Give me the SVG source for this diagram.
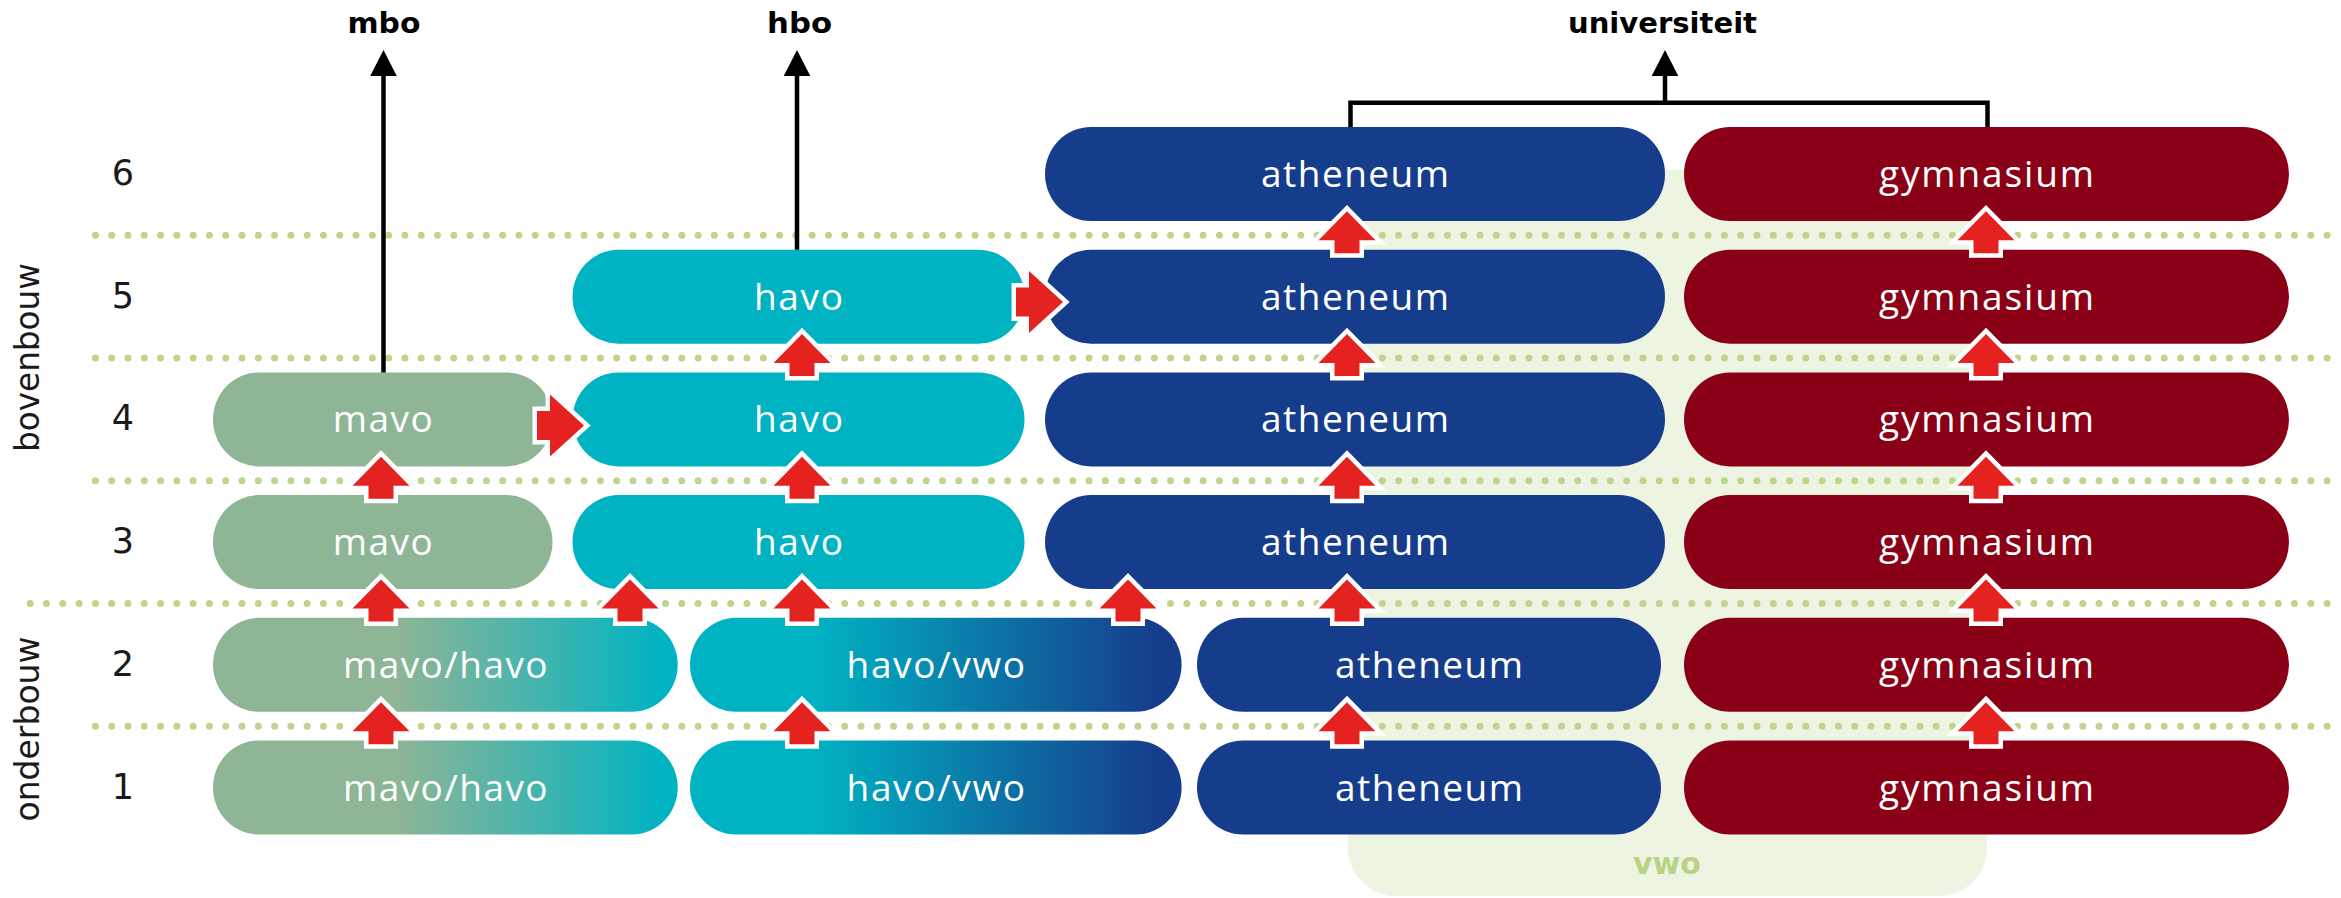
<svg xmlns="http://www.w3.org/2000/svg" xmlns:xlink="http://www.w3.org/1999/xlink" width="2341" height="898" viewBox="0 0 2341 898">
<style>
.box{stroke:none}
.lbl{font-family:"Open Sans","Liberation Sans",sans-serif;font-size:37px;fill:#ffffff;text-anchor:middle}
.num{font-family:"DejaVu Sans","Liberation Sans",sans-serif;font-size:35px;fill:#1a1a1a;text-anchor:middle}
.side{font-family:"DejaVu Sans","Liberation Sans",sans-serif;font-size:33px;fill:#1a1a1a;text-anchor:middle}
.top{font-family:"DejaVu Sans","Liberation Sans",sans-serif;font-size:29px;font-weight:bold;fill:#000;text-anchor:middle}
.dots{stroke:#bdd68a;stroke-width:7;stroke-linecap:round;stroke-dasharray:0 16.29;fill:none}
.blk{stroke:#000;stroke-width:4.5;fill:none}
.red{fill:#e42320;stroke:#ffffff;stroke-width:9;paint-order:stroke;stroke-linejoin:miter}
.ath{fill:#163d8c}.gym{fill:#8a0017}.hav{fill:#00b3c3}.mav{fill:#8db596}
</style>
<defs>
<linearGradient id="gMH" x1="0" y1="0" x2="1" y2="0"><stop offset="0" stop-color="#8db596"/><stop offset="0.4" stop-color="#8db596"/><stop offset="0.97" stop-color="#00b3c3"/></linearGradient>
<linearGradient id="gHV" x1="0" y1="0" x2="1" y2="0"><stop offset="0" stop-color="#00b3c3"/><stop offset="0.25" stop-color="#00b3c3"/><stop offset="0.95" stop-color="#163d8c"/></linearGradient>
<path id="up" d="M0,-24 L28.5,5 L12.5,5 L12.5,18 L-12.5,18 L-12.5,5 L-28.5,5 Z"/>
<path id="rt" d="M0,-14.5 H13 V-31 L47,0 L13,31 V14.5 H0 Z"/>
</defs>

<g id="vwo-zone">
<rect x="1348" y="170" width="639" height="726" rx="48" ry="48" fill="#edf4e2"/>
<text x="1667" y="874" class="top" style="fill:#b7d383;font-size:31px" textLength="68" lengthAdjust="spacingAndGlyphs">vwo</text>
</g>

<g id="year-lines">
<line class="dots" x1="95.4" y1="235.35" x2="2330" y2="235.35"/>
<line class="dots" x1="95.4" y1="358.05" x2="2330" y2="358.05"/>
<line class="dots" x1="95.4" y1="480.75" x2="2330" y2="480.75"/>
<line class="dots" x1="30.2" y1="603.45" x2="2330" y2="603.45"/>
<line class="dots" x1="95.4" y1="726.15" x2="2330" y2="726.15"/>
</g>

<g id="axis-labels">
<text class="num" x="123" y="185">6</text>
<text class="num" x="123" y="307.7">5</text>
<text class="num" x="123" y="430.4">4</text>
<text class="num" x="123" y="553.1">3</text>
<text class="num" x="123" y="675.8">2</text>
<text class="num" x="123" y="798.5">1</text>
<text class="side" transform="translate(38.5,357.5) rotate(-90)" textLength="189" lengthAdjust="spacingAndGlyphs">bovenbouw</text>
<text class="side" transform="translate(38.5,729) rotate(-90)" textLength="185" lengthAdjust="spacingAndGlyphs">onderbouw</text>
</g>

<g id="mavo-4"><rect class="box mav" x="213" y="372.4" width="339.5" height="94" rx="46" ry="47"/><text class="lbl" x="382.7" y="432.4" textLength="100">mavo</text></g>
<g id="mavo-3"><rect class="box mav" x="213" y="495.1" width="339.5" height="94" rx="46" ry="47"/><text class="lbl" x="382.7" y="555.1" textLength="100">mavo</text></g>
<g id="mavohavo-2"><rect class="box" fill="url(#gMH)" x="213" y="617.8" width="464.7" height="94" rx="46" ry="47"/><text class="lbl" x="445.3" y="677.8" textLength="204.5">mavo/havo</text></g>
<g id="mavohavo-1"><rect class="box" fill="url(#gMH)" x="213" y="740.5" width="464.7" height="94" rx="46" ry="47"/><text class="lbl" x="445.3" y="800.5" textLength="204.5">mavo/havo</text></g>

<g id="havo-5"><rect class="box hav" x="572.5" y="249.7" width="452" height="94" rx="46" ry="47"/><text class="lbl" x="798.5" y="309.7" textLength="89">havo</text></g>
<g id="havo-4"><rect class="box hav" x="572.5" y="372.4" width="452" height="94" rx="46" ry="47"/><text class="lbl" x="798.5" y="432.4" textLength="89">havo</text></g>
<g id="havo-3"><rect class="box hav" x="572.5" y="495.1" width="452" height="94" rx="46" ry="47"/><text class="lbl" x="798.5" y="555.1" textLength="89">havo</text></g>
<g id="havovwo-2"><rect class="box" fill="url(#gHV)" x="690" y="617.8" width="491.6" height="94" rx="46" ry="47"/><text class="lbl" x="935.8" y="677.8" textLength="178.5">havo/vwo</text></g>
<g id="havovwo-1"><rect class="box" fill="url(#gHV)" x="690" y="740.5" width="491.6" height="94" rx="46" ry="47"/><text class="lbl" x="935.8" y="800.5" textLength="178.5">havo/vwo</text></g>

<g id="atheneum-6"><rect class="box ath" x="1045" y="127" width="620" height="94" rx="46" ry="47"/><text class="lbl" x="1355" y="187" textLength="188">atheneum</text></g>
<g id="atheneum-5"><rect class="box ath" x="1045" y="249.7" width="620" height="94" rx="46" ry="47"/><text class="lbl" x="1355" y="309.7" textLength="188">atheneum</text></g>
<g id="atheneum-4"><rect class="box ath" x="1045" y="372.4" width="620" height="94" rx="46" ry="47"/><text class="lbl" x="1355" y="432.4" textLength="188">atheneum</text></g>
<g id="atheneum-3"><rect class="box ath" x="1045" y="495.1" width="620" height="94" rx="46" ry="47"/><text class="lbl" x="1355" y="555.1" textLength="188">atheneum</text></g>
<g id="atheneum-2"><rect class="box ath" x="1197" y="617.8" width="464" height="94" rx="46" ry="47"/><text class="lbl" x="1429" y="677.8" textLength="188">atheneum</text></g>
<g id="atheneum-1"><rect class="box ath" x="1197" y="740.5" width="464" height="94" rx="46" ry="47"/><text class="lbl" x="1429" y="800.5" textLength="188">atheneum</text></g>

<g id="gymnasium-6"><rect class="box gym" x="1684" y="127" width="605" height="94" rx="46" ry="47"/><text class="lbl" x="1986.5" y="187" textLength="215">gymnasium</text></g>
<g id="gymnasium-5"><rect class="box gym" x="1684" y="249.7" width="605" height="94" rx="46" ry="47"/><text class="lbl" x="1986.5" y="309.7" textLength="215">gymnasium</text></g>
<g id="gymnasium-4"><rect class="box gym" x="1684" y="372.4" width="605" height="94" rx="46" ry="47"/><text class="lbl" x="1986.5" y="432.4" textLength="215">gymnasium</text></g>
<g id="gymnasium-3"><rect class="box gym" x="1684" y="495.1" width="605" height="94" rx="46" ry="47"/><text class="lbl" x="1986.5" y="555.1" textLength="215">gymnasium</text></g>
<g id="gymnasium-2"><rect class="box gym" x="1684" y="617.8" width="605" height="94" rx="46" ry="47"/><text class="lbl" x="1986.5" y="677.8" textLength="215">gymnasium</text></g>
<g id="gymnasium-1"><rect class="box gym" x="1684" y="740.5" width="605" height="94" rx="46" ry="47"/><text class="lbl" x="1986.5" y="800.5" textLength="215">gymnasium</text></g>

<g id="destinations">
<text class="top" x="384" y="33" textLength="73" lengthAdjust="spacingAndGlyphs">mbo</text>
<text class="top" x="799.5" y="33" textLength="65" lengthAdjust="spacingAndGlyphs">hbo</text>
<text class="top" x="1662.5" y="33" textLength="189" lengthAdjust="spacingAndGlyphs">universiteit</text>
</g>

<g id="connectors">
<line class="blk" x1="383.5" y1="74" x2="383.5" y2="372.4"/>
<polygon points="383.5,50 396.8,76 370.2,76" fill="#000"/>
<line class="blk" x1="797" y1="74" x2="797" y2="249.7"/>
<polygon points="797,50 810.3,76 783.7,76" fill="#000"/>
<path class="blk" d="M1350.5,127 V102.7 H1987.5 V127"/>
<line class="blk" x1="1665" y1="74" x2="1665" y2="102.7"/>
<polygon points="1665,50 1678.3,76 1651.7,76" fill="#000"/>

<use href="#up" xlink:href="#up" class="red" x="1347" y="235.35"/>
<use href="#up" xlink:href="#up" class="red" x="1986" y="235.35"/>
<use href="#up" xlink:href="#up" class="red" x="802" y="358.05"/>
<use href="#up" xlink:href="#up" class="red" x="1347" y="358.05"/>
<use href="#up" xlink:href="#up" class="red" x="1986" y="358.05"/>
<use href="#up" xlink:href="#up" class="red" x="381" y="480.75"/>
<use href="#up" xlink:href="#up" class="red" x="802" y="480.75"/>
<use href="#up" xlink:href="#up" class="red" x="1347" y="480.75"/>
<use href="#up" xlink:href="#up" class="red" x="1986" y="480.75"/>
<use href="#up" xlink:href="#up" class="red" x="381" y="603.45"/>
<use href="#up" xlink:href="#up" class="red" x="630" y="603.45"/>
<use href="#up" xlink:href="#up" class="red" x="802" y="603.45"/>
<use href="#up" xlink:href="#up" class="red" x="1128" y="603.45"/>
<use href="#up" xlink:href="#up" class="red" x="1347" y="603.45"/>
<use href="#up" xlink:href="#up" class="red" x="1986" y="603.45"/>
<use href="#up" xlink:href="#up" class="red" x="381" y="726.15"/>
<use href="#up" xlink:href="#up" class="red" x="802" y="726.15"/>
<use href="#up" xlink:href="#up" class="red" x="1347" y="726.15"/>
<use href="#up" xlink:href="#up" class="red" x="1986" y="726.15"/>
<use href="#rt" xlink:href="#rt" class="red" x="537" y="425.5"/>
<use href="#rt" xlink:href="#rt" class="red" x="1016" y="302"/>
</g>
</svg>
